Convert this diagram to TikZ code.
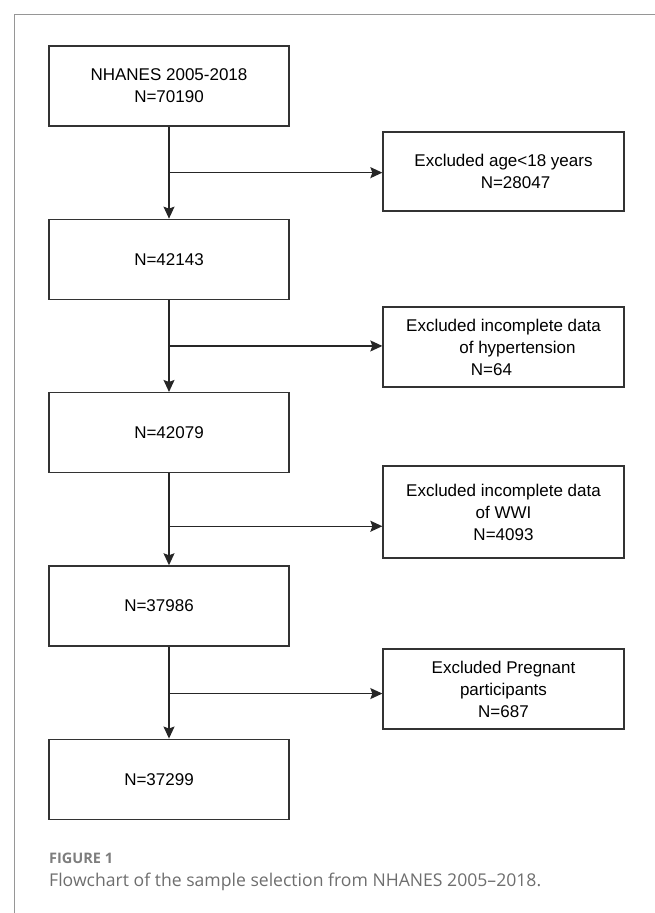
\documentclass[tikz,border=0pt]{standalone}
\usepackage{fontspec}
\setmainfont{Liberation Sans}
\newfontfamily\capfont{Open Sans}
\usetikzlibrary{arrows.meta,positioning}
\definecolor{boxline}{RGB}{51,51,51}
\definecolor{frameline}{RGB}{150,150,150}
\definecolor{capgrey}{RGB}{110,110,110}
\definecolor{labgrey}{RGB}{125,125,125}

\begin{document}
\begin{tikzpicture}[x=1pt, y=-1pt,
    node distance=92pt and 94pt,
    countbox/.style={draw=boxline, line width=1.3pt, minimum width=240pt, minimum height=80pt, align=center, font=\fontsize{17}{22}\selectfont, inner sep=0pt},
    exclbox/.style={countbox, minimum width=241pt},
    arrow/.style={-{Stealth[length=12pt, width=11pt, inset=2pt]}, line width=1.3pt, draw=black!85},
    frame/.style={draw=frameline, line width=1pt}
]
\useasboundingbox (0,0) rectangle (655,913);
\draw[frame] (655,14) -- (14,14) -- (14,913);
% main chain
\node[countbox] (total) at (169,86) {NHANES 2005-2018\\N=70190};
\node[countbox, below=of total] (adult) {N=42143};
\node[countbox, below=of adult] (htnok) {N=42079};
\node[countbox, below=of htnok] (wwiok) {N=37986\hspace*{20pt}};
\node[countbox, below=of wwiok] (final) {N=37299\hspace*{20pt}};
% exclusions
\node[exclbox, minimum height=79pt] (age) at (503.5,171.5) {Excluded age<18 years\\\hspace*{24pt}N=28047};
\node[exclbox] (htn) at (503.5,347) {Excluded incomplete data\\\hspace*{28pt}of hypertension\\N=64\hspace*{24pt}};
\node[exclbox, minimum height=92pt] (wwi) at (503.5,512) {Excluded incomplete data\\of WWI\\N=4093};
\node[exclbox] (preg) at (503.5,689) {Excluded Pregnant\\participants\\N=687};
% branch points
\path (total.south) -- ++(0,46) coordinate (cut1);
\path (adult.south) -- ++(0,46) coordinate (cut2);
\path (htnok.south) -- ++(0,53) coordinate (cut3);
\path (wwiok.south) -- ++(0,47) coordinate (cut4);
\draw[arrow] (total) -- (adult);
\draw[arrow] (adult) -- (htnok);
\draw[arrow] (htnok) -- (wwiok);
\draw[arrow] (wwiok) -- (final);
\draw[arrow] (cut1) -- (cut1 -| age.west);
\draw[arrow] (cut2) -- (cut2 -| htn.west);
\draw[arrow] (cut3) -- (cut3 -| wwi.west);
\draw[arrow] (cut4) -- (cut4 -| preg.west);
% caption
\node[font=\capfont\bfseries\fontsize{14.5}{16}\selectfont, text=labgrey, anchor=west, inner sep=0pt] (figlabel) at (49,858) {FIGURE 1};
\node[font=\capfont\fontsize{17.6}{20}\selectfont, text=capgrey, anchor=west, inner sep=0pt] (figcaption) at (49,882) {Flowchart of the sample selection from NHANES 2005–2018.};
\end{tikzpicture}
\end{document}
